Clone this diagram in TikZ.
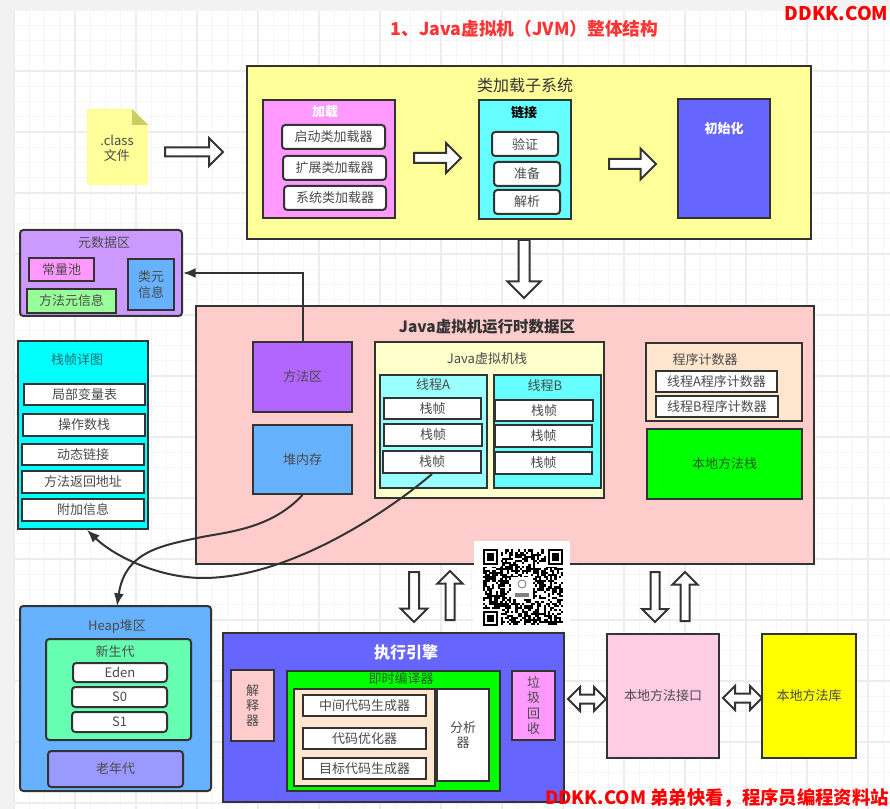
\documentclass[tikz,border=0pt]{standalone}
\usepackage{fontspec}
\setmainfont{Noto Sans CJK SC}
\usetikzlibrary{arrows.meta}
\definecolor{ink}{HTML}{333333}
\definecolor{txt}{HTML}{4A4A4A}
\definecolor{redt}{HTML}{FF3333}
\definecolor{wred}{HTML}{FF0000}
\definecolor{pale}{HTML}{FFFF99}
\definecolor{foldc}{HTML}{CCCC66}
\definecolor{mag}{HTML}{FF99FF}
\definecolor{cyanb}{HTML}{66FFFF}
\definecolor{cyanf}{HTML}{00FFFF}
\definecolor{cyanl}{HTML}{99FFFF}
\definecolor{indig}{HTML}{6666FF}
\definecolor{lilac}{HTML}{CC99FF}
\definecolor{purp}{HTML}{B266FF}
\definecolor{skyb}{HTML}{66B2FF}
\definecolor{pinkb}{HTML}{FFCCCC}
\definecolor{peach}{HTML}{FFE6CC}
\definecolor{lgreen}{HTML}{99FF99}
\definecolor{greenf}{HTML}{00FF00}
\definecolor{yellowf}{HTML}{FFFF00}
\definecolor{creamb}{HTML}{FFFFCC}
\definecolor{mint}{HTML}{66FFB2}
\definecolor{perib}{HTML}{9999FF}
\definecolor{rosy}{HTML}{FFCCE6}
\definecolor{tealt}{HTML}{1F6F6F}
\definecolor{greent}{HTML}{1F5F1F}
\tikzset{
  boxs/.style={draw=ink,line width=1.5pt,text=txt,inner sep=0pt,font=\fontsize{9.75}{11.4}\selectfont,align=center},
  rbox/.style={boxs,rounded corners=2.5pt},
  lbl/.style={inner sep=0pt,text=txt,font=\fontsize{9.75}{11.4}\selectfont,align=center},
  head/.style={lbl,font=\fontsize{12}{14}\selectfont,text=ink},
  whead/.style={lbl,font=\bfseries\fontsize{9.75}{12}\selectfont,text=white},
  barrow/.style={draw=ink,fill=white,line width=1.5pt,line join=miter},
  link/.style={draw=ink,line width=1.5pt,-{Latex[length=9.5pt,width=7.5pt]}}
}
\newcommand\bx[6][]{\node[boxs,#1,minimum width={(#5-#3)*0.75pt},minimum height={(#6-#4)*0.75pt}] (#2) at ({(#3+#5)/2},{(#4+#6)/2}) {};}
\newcommand\bxt[7][]{\node[boxs,#1,minimum width={(#5-#3)*0.75pt},minimum height={(#6-#4)*0.75pt}] (#2) at ({(#3+#5)/2},{(#4+#6)/2}) {#7};}
% single block arrow: {name}{center x}{center y}{length}{rotation}{head width}{shaft width}
\newcommand\arw[7]{\coordinate (#1) at (#2,#3);
  \draw[barrow,shift={(#2,#3)},rotate=#5]
    ({-#4/2},{-#7/2}) -- ({#4/2-#6/2},{-#7/2}) -- ({#4/2-#6/2},{-#6/2}) -- ({#4/2},0)
    -- ({#4/2-#6/2},{#6/2}) -- ({#4/2-#6/2},{#7/2}) -- ({-#4/2},{#7/2}) -- cycle;}
% double block arrow: {name}{center x}{center y}{length}{head width}{shaft width}
\newcommand\darw[6]{\coordinate (#1) at (#2,#3);
  \draw[barrow,shift={(#2,#3)}]
    ({-#4/2},0) -- ({-#4/2+#5/2},{-#5/2}) -- ({-#4/2+#5/2},{-#6/2}) -- ({#4/2-#5/2},{-#6/2})
    -- ({#4/2-#5/2},{-#5/2}) -- ({#4/2},0) -- ({#4/2-#5/2},{#5/2}) -- ({#4/2-#5/2},{#6/2})
    -- ({-#4/2+#5/2},{#6/2}) -- ({-#4/2+#5/2},{#5/2}) -- cycle;}
\begin{document}
\begin{tikzpicture}[x=0.75pt,y=-0.75pt]
\useasboundingbox (0,0) rectangle (890,809);
\fill[black!5] (0,0) rectangle (890,809);
\fill[white] (14,11) rectangle (890,809);
% grid
\foreach \k in {0,...,57}{
  \pgfmathsetmacro\gx{14+15.25*\k}
  \draw[black!4,line width=0.5pt] (\gx,11) -- (\gx,809);
}
\foreach \k in {0,...,52}{
  \pgfmathsetmacro\gy{10+15.25*\k}
  \draw[black!4,line width=0.5pt] (14,\gy) -- (890,\gy);
}
\foreach \k in {0,...,14}{
  \pgfmathsetmacro\gx{14+61*\k}
  \draw[black!7,line width=0.8pt] (\gx,11) -- (\gx,809);
}
\foreach \k in {1,...,13}{
  \pgfmathsetmacro\gy{10+61*\k}
  \draw[black!7,line width=0.8pt] (14,\gy) -- (890,\gy);
}
% titles
\node[inner sep=0pt,text=redt,font=\bfseries\fontsize{13.3}{15}\selectfont] (maintitle) at (524.5,29) {1、Java虚拟机（JVM）整体结构};
\node[inner sep=0pt,text=wred,font=\bfseries\fontsize{14.1}{17}\selectfont] (wmtop) at (836.5,14) {DDKK.COM};

% .class note
\fill[pale] (87,109) -- (132,109) -- (148,125) -- (148,185) -- (87,185) -- cycle;
\fill[foldc] (132,109) -- (148,125) -- (132,125) -- cycle;
\node[lbl] (classfile) at (117,148) {.class\\文件};
\arw{aclass}{194}{152}{58}{0}{28}{9}

% class loader
\bx[fill=pale]{loader}{247}{66}{811}{239}
\node[head] (loadertitle) at (525,85) {类加载子系统};
\bx[fill=mag]{loading}{263}{100}{395}{218}
\node[whead] (loadingt) at (325,112) {加载};
\bxt[rbox,fill=white]{boot}{282}{125}{385}{149}{启动类加载器}
\bxt[rbox,fill=white]{ext}{283}{156}{386}{180}{扩展类加载器}
\bxt[rbox,fill=white]{sys}{284}{186}{386}{210}{系统类加载器}
\arw{aload}{437.5}{158}{47}{0}{30}{10}
\bx[fill=cyanb]{linking}{479}{100}{571}{219}
\node[whead,text=black] (linkingt) at (524,113) {链接};
\bxt[rbox,fill=white]{verify}{492}{132}{558}{156}{验证}
\bxt[rbox,fill=white]{prepare}{494}{162}{560}{186}{准备}
\bxt[rbox,fill=white]{resolve}{494}{190}{560}{214}{解析}
\arw{alink}{632.5}{164}{47}{0}{31}{10}
\bx[fill=indig]{init}{678}{99}{770}{218}
\node[whead] (initt) at (724,129) {初始化};
\arw{adown}{524}{269}{58}{-90}{33}{11}

% metadata
\bx[rbox,fill=lilac]{meta}{20}{230}{182}{316}
\node[lbl] (metat) at (104,243) {元数据区};
\bxt[fill=mag]{pool}{29}{258}{94}{281}{常量池}
\bxt[fill=lgreen]{methmeta}{27}{289}{116}{313}{方法元信息}
\bxt[fill=skyb]{classmeta}{128}{259}{174}{310}{类元\\信息}

% frame detail
\bx[fill=cyanf]{frames}{18}{341}{148}{529}
\node[lbl,text=tealt] (framest) at (77,360) {栈帧详图};
\bxt[fill=white]{locals}{24}{384}{145}{405}{局部变量表}
\bxt[fill=white]{opstack}{23}{414}{145}{436}{操作数栈}
\bxt[fill=white]{dynlink}{22}{444}{144}{465}{动态链接}
\bxt[fill=white]{retaddr}{22}{471}{144}{493}{方法返回地址}
\bxt[fill=white]{addinfo}{22}{499}{144}{521}{附加信息}

% runtime area
\bx[fill=pinkb]{runtime}{196}{306}{814}{564}
\node[head,font=\bfseries\fontsize{11.6}{14}\selectfont] (runtimet) at (487,327) {Java虚拟机运行时数据区};
\bxt[fill=purp]{methodarea}{253}{342}{352}{412}{方法区}
\bxt[fill=skyb]{heapmem}{253}{425}{352}{494}{堆内存}
\bx[fill=creamb]{jvmstack}{375}{342}{604}{498}
\node[lbl] (jvmstackt) at (487,359) {Java虚拟机栈};
\bx[fill=cyanl]{ta}{380}{375}{487}{488}
\node[lbl] (tat) at (433,385) {线程A};
\bxt[fill=white]{af1}{384}{398}{481}{419}{栈帧}
\bxt[fill=white]{af2}{384}{424}{482}{446}{栈帧}
\bxt[fill=white]{af3}{383}{451}{481}{473}{栈帧}
\bx[fill=cyanb]{tb}{494}{375}{601}{488}
\node[lbl] (tbt) at (545,386) {线程B};
\bxt[fill=white]{bf1}{495}{400}{593}{421}{栈帧}
\bxt[fill=white]{bf2}{495}{425}{592}{447}{栈帧}
\bxt[fill=white]{bf3}{495}{452}{592}{474}{栈帧}
\bx[fill=peach]{pc}{646}{343}{802}{421}
\node[lbl] (pct) at (705,360) {程序计数器};
\bxt[fill=white]{pca}{656}{371}{777}{392}{线程A程序计数器}
\bxt[fill=white]{pcb}{656}{396}{778}{417}{线程B程序计数器}
\bxt[fill=greenf,text=greent]{nstack}{647}{429}{802}{499}{本地方法栈}

% QR
\fill[white] (474,541) rectangle (570,630);
\pgfmathsetseed{4217}
\foreach \i in {0,...,36}{
  \foreach \j in {0,...,36}{
    \pgfmathparse{rnd>0.47?1:0}
    \ifnum\pgfmathresult=1
      \fill[black] ({483+\i*2.162},{549.5+\j*2.05}) rectangle ++(2.25,2.15);
    \fi
  }
}
\foreach \qx/\qy in {483/549.5,548/549.5,483/610.5}{
  \fill[white] (\qx-2,\qy-2) rectangle ++(19.5,19.5);
  \fill[black] (\qx,\qy) rectangle ++(15,15);
  \fill[white] (\qx+2,\qy+2) rectangle ++(11,11);
  \fill[black] (\qx+4,\qy+4) rectangle ++(7,7);
}
\fill[white] (511,577) rectangle (533,599);
\draw[black!55,line width=0.6pt] (522,584) circle (4);
\fill[black!50] (515,593) rectangle (529,597);

% execution engine
\bx[fill=indig]{engine}{223}{633}{564}{802}
\node[whead,font=\bfseries\fontsize{12}{14}\selectfont] (enginet) at (406,652) {执行引擎};
\bxt[fill=pinkb]{interp}{231}{670}{274}{741}{解\\释\\器}
\bx[fill=greenf]{jit}{287}{671}{500}{791}
\node[lbl,text=greent] (jitt) at (401,679) {即时编译器};
\bx[fill=peach]{jitin}{294}{689}{435}{786}
\bxt[fill=white]{ir}{303}{695}{426}{716}{中间代码生成器}
\bxt[fill=white]{opt}{303}{728}{426}{749}{代码优化器}
\bxt[fill=white]{target}{303}{758}{426}{779}{目标代码生成器}
\bxt[fill=white]{analyzer}{437}{689}{489}{781}{分析\\器}
\bxt[fill=mag]{gc}{512}{671}{555}{740}{垃\\圾\\回\\收}

% native
\bxt[fill=rosy]{nif}{607}{634}{719}{758}{本地方法接口}
\bxt[fill=yellowf]{nlib}{762}{634}{856}{758}{本地方法库}

% block arrows around
\arw{arun1}{414}{597}{50}{-90}{27}{10}
\arw{arun2}{450}{595.5}{49}{90}{25}{9}
\arw{arun3}{655}{597}{50}{-90}{26}{9}
\arw{arun4}{685}{596.5}{49}{90}{25}{9}
\darw{dn1}{587}{699}{38}{24}{9}
\darw{dn2}{742.5}{698}{39}{24}{9}

% heap
\bx[rbox,fill=skyb]{heap}{20}{606}{211}{791}
\node[lbl] (heapt) at (117,627) {Heap堆区};
\bx[rbox,fill=mint]{young}{46}{639}{191}{740}
\node[lbl] (youngt) at (115,652) {新生代};
\bxt[rbox,fill=white]{eden}{73}{663}{167}{682}{Eden}
\bxt[rbox,fill=white]{szero}{72}{687}{167}{707}{S0}
\bxt[rbox,fill=white]{sone}{72}{712}{167}{732}{S1}
\bxt[rbox,fill=perib]{old}{48}{751}{183}{787}{老年代}

% connectors
\draw[link] (methodarea.north) |- (meta.east);
\coordinate (heapin) at (117,606);
\coordinate (framesin) at (87,530);
\draw[link] (heapmem.south) .. controls (270,530) and (225,532) .. (197,538) .. controls (160,546) and (125,552) .. (heapin);
\draw[link] (af3.south) .. controls (390,510) and (290,578) .. (203,578) .. controls (160,578) and (115,557) .. (framesin);

% watermark
\node[inner sep=0pt,text=wred,font=\bfseries\fontsize{13.75}{17}\selectfont] (wmbot) at (717,798) {DDKK.COM 弟弟快看，程序员编程资料站};
\end{tikzpicture}
\end{document}
